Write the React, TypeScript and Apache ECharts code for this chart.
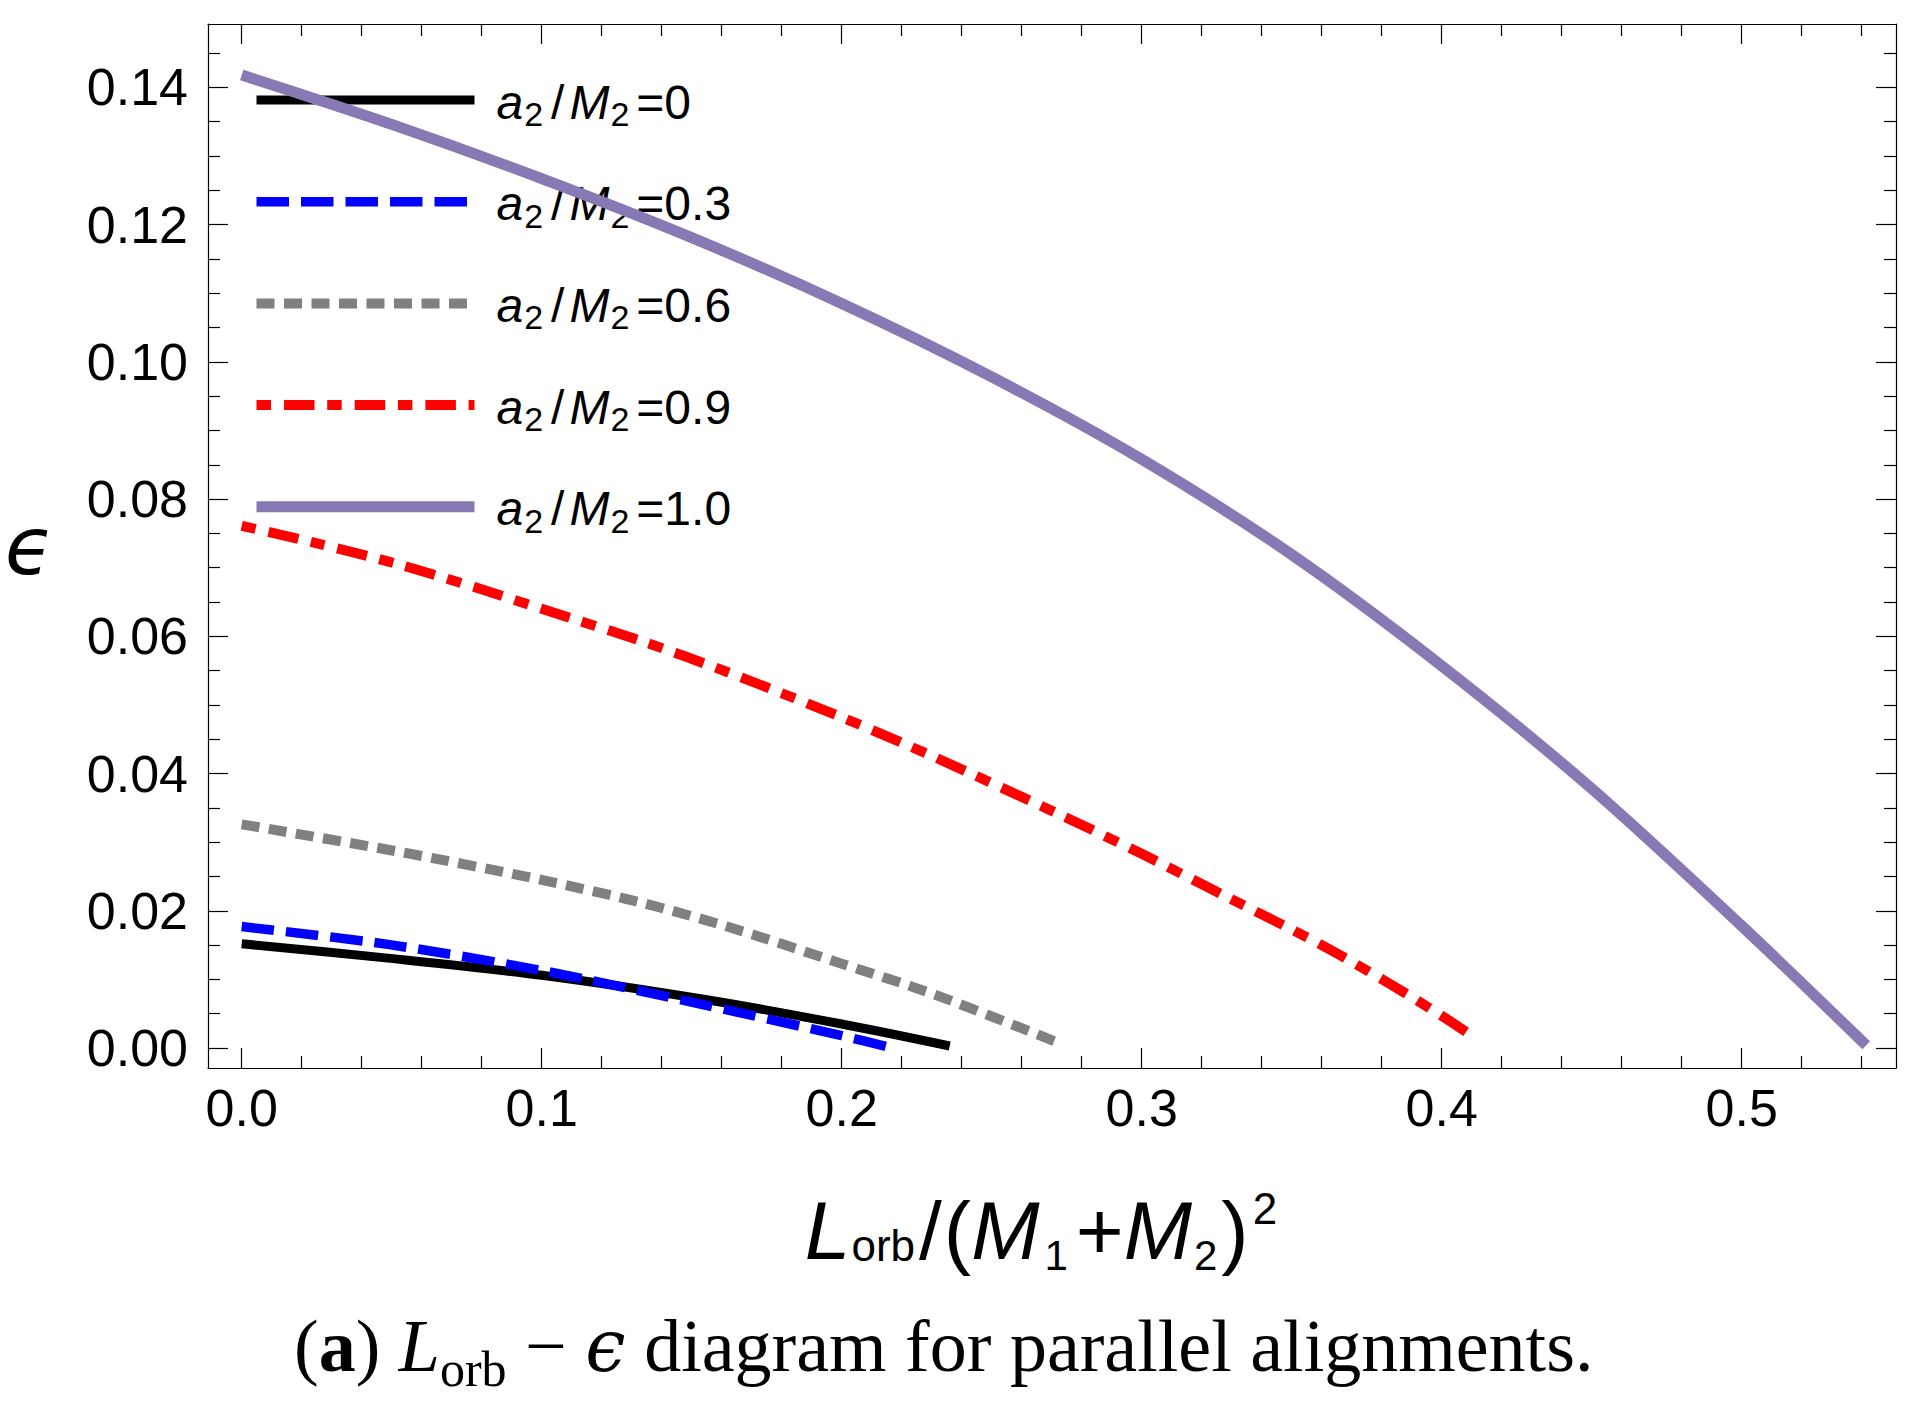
import React, { useEffect, useRef } from "react";
import * as echarts from "echarts";

// ---- axis ranges and ticks ----
const X_MIN = -0.01123;
const X_MAX = 0.55143;
const Y_MIN = -0.00291;
const Y_MAX = 0.14923;

const xMajorTicks = [0, 0.1, 0.2, 0.3, 0.4, 0.5];
const xMinorTicks = [0.02, 0.04, 0.06, 0.08, 0.12, 0.14, 0.16, 0.18, 0.22, 0.24, 0.26, 0.28, 0.32, 0.34, 0.36, 0.38, 0.42, 0.44, 0.46, 0.48, 0.52, 0.54];
const yMajorTicks = [0, 0.02, 0.04, 0.06, 0.08, 0.1, 0.12, 0.14];
const yMinorTicks = [0.005, 0.01, 0.015, 0.025, 0.03, 0.035, 0.045, 0.05, 0.055, 0.065, 0.07, 0.075, 0.085, 0.09, 0.095, 0.105, 0.11, 0.115, 0.125, 0.13, 0.135, 0.145];

// ---- series ----
const seriesNames = ["a2/M2=0", "a2/M2=0.3", "a2/M2=0.6", "a2/M2=0.9", "a2/M2=1.0"];
const spinLabels = ["0", "0.3", "0.6", "0.9", "1.0"];

const L0 = [0, 0.0487, 0.1, 0.154, 0.2, 0.236];
const E0 = [0.0152, 0.0131, 0.0106, 0.0071, 0.0035, 0.0003];

const L3 = [0, 0.0487, 0.1, 0.154, 0.2, 0.217];
const E3 = [0.0177, 0.0151, 0.0113, 0.0063, 0.0018, 0.0];

const L6 = [0, 0.0513, 0.1, 0.134, 0.1618, 0.2, 0.2309, 0.272];
const E6 = [0.0326, 0.0287, 0.0245, 0.0211, 0.0177, 0.0123, 0.0078, 0.0008];

const L9 = [0, 0.0237, 0.0513, 0.0789, 0.1, 0.134, 0.1618, 0.2, 0.2309, 0.2723, 0.3, 0.3276, 0.36, 0.3829, 0.4, 0.411];
const E9 = [0.0761, 0.0737, 0.0706, 0.067, 0.064, 0.0592, 0.0548, 0.0482, 0.0424, 0.0341, 0.0283, 0.0222, 0.015, 0.0093, 0.0047, 0.0015];

const L10 = [0, 0.05, 0.1, 0.15, 0.2, 0.25, 0.3, 0.35, 0.4, 0.45, 0.5, 0.5415];
const E10 = [0.1418, 0.1346, 0.1267, 0.1181, 0.1085, 0.0978, 0.0858, 0.0719, 0.0557, 0.0378, 0.0178, 0.0004];

const seriesX = [L0, L3, L6, L9, L10];
const seriesY = [E0, E3, E6, E9, E10];
const seriesColors = ["#000000", "#0000ff", "#808080", "#ff0000", "#8878b4"];
const seriesWidths = [9, 9.5, 10, 10, 11];
const seriesDash: any[] = ["solid", [32.5, 12], [18, 9.5], [14.5, 13, 30.5, 12.7], "solid"];

const SANS = "'Liberation Sans', Arial, Helvetica, sans-serif";
const SERIF = "'Liberation Serif', 'Times New Roman', serif";

function buildOption() {
  const lineStyleAxis = { color: "#000", width: 1.2 };

  const makeX = (position: string, ticks: number[], len: number, major: boolean, labels: boolean) => ({
    type: "value",
    gridIndex: 0,
    position,
    min: X_MIN,
    max: X_MAX,
    axisLine: { show: major, onZero: false, lineStyle: lineStyleAxis },
    axisTick: { show: true, inside: true, length: len, customValues: ticks, lineStyle: { color: "#000", width: 1.2 } },
    axisLabel: labels
      ? {
          show: true,
          customValues: ticks,
          formatter: (v: number) => v.toFixed(1),
          fontFamily: SANS,
          fontSize: 52,
          lineHeight: 52,
          color: "#000",
          margin: 14,
        }
      : { show: false },
    splitLine: { show: false },
    minorTick: { show: false },
  });

  const makeY = (position: string, ticks: number[], len: number, major: boolean, labels: boolean) => ({
    type: "value",
    gridIndex: 0,
    position,
    min: Y_MIN,
    max: Y_MAX,
    axisLine: { show: major, onZero: false, lineStyle: lineStyleAxis },
    axisTick: { show: true, inside: true, length: len, customValues: ticks, lineStyle: { color: "#000", width: 1.2 } },
    axisLabel: labels
      ? {
          show: true,
          customValues: ticks,
          formatter: (v: number) => v.toFixed(2),
          fontFamily: SANS,
          fontSize: 52,
          lineHeight: 52,
          color: "#000",
          margin: 20,
        }
      : { show: false },
    splitLine: { show: false },
    minorTick: { show: false },
  });

  const xMain: any = makeX("bottom", xMajorTicks, 20, true, true);
  xMain.name = "{L|L}{o|orb}{sl|/}{n|(}{M|M}{s1|1}{n|+}{M|M}{s2|2}{n|)}{sup|2}";
  xMain.nameLocation = "middle";
  xMain.nameGap = 112;
  const tk = (extra: any) => ({ fontFamily: SANS, color: "#000", lineHeight: 100, ...extra });
  xMain.nameTextStyle = {
    fontFamily: SANS,
    fontSize: 82,
    color: "#000",
    lineHeight: 100,
    rich: {
      L: tk({ fontSize: 82, fontStyle: "italic" }),
      o: tk({ fontSize: 44, padding: [30, 2, 0, 1] }),
      sl: tk({ fontSize: 82, padding: [0, 2, 0, 2] }),
      n: tk({ fontSize: 82 }),
      M: tk({ fontSize: 82, fontStyle: "italic" }),
      s1: tk({ fontSize: 42, padding: [51, 8, 0, 5] }),
      s2: tk({ fontSize: 42, padding: [51, 4, 0, 2] }),
      sup: tk({ fontSize: 44, padding: [0, 22, 44, 4] }),
    },
  };

  const yMain: any = makeY("left", yMajorTicks, 20, true, true);
  yMain.name = "ϵ";
  yMain.nameLocation = "middle";
  yMain.nameRotate = 0;
  yMain.nameGap = 154;
  yMain.nameTextStyle = {
    fontFamily: "'DejaVu Sans', sans-serif",
    fontStyle: "italic",
    fontSize: 80,
    lineHeight: 80,
    color: "#000",
    padding: [8, 0, 0, 0],
  };

  const lt = (extra: any) => ({ fontFamily: SANS, color: "#000", lineHeight: 60, ...extra });

  const st = (extra: any) => ({ fontFamily: SERIF, color: "#000", fontWeight: "normal", lineHeight: 90, ...extra });

  return {
    animation: false,
    backgroundColor: "#ffffff",
    title: {
      text: "{p|(}{b|a}{p|) }{i|L}{s|orb}{p| − }{e|ϵ}{p| diagram for parallel alignments.}",
      left: 294,
      top: 1301,
      padding: 0,
      textStyle: {
        fontFamily: SERIF,
        fontSize: 74,
        fontWeight: "normal",
        color: "#000",
        lineHeight: 90,
        rich: {
          p: st({ fontSize: 74 }),
          b: st({ fontSize: 74, fontWeight: "bold" }),
          i: st({ fontSize: 74, fontStyle: "italic" }),
          s: st({ fontSize: 50, padding: [46, 0, 0, 0] }),
          e: st({ fontSize: 72, fontStyle: "italic", fontFamily: "'DejaVu Serif', serif" }),
        },
      },
    },
    grid: {
      left: 208,
      right: 36,
      top: 24,
      bottom: 349,
      containLabel: false,
      outerBoundsMode: "none",
    },
    legend: {
      show: true,
      orient: "vertical",
      left: 251,
      top: 69,
      padding: 0,
      itemWidth: 218,
      itemHeight: 14,
      itemGap: 39.7,
      z: 1,
      selectedMode: false,
      data: seriesNames,
      itemStyle: { opacity: 0, borderWidth: 0 },
      lineStyle: { width: "inherit" },
      formatter: (name: string) => {
        const i = seriesNames.indexOf(name);
        return `{a|a}{s|2}{sl|/}{m|M}{s|2}{v|=${spinLabels[i]}}`;
      },
      textStyle: {
        fontFamily: SANS,
        fontSize: 48,
        color: "#000",
        lineHeight: 60,
        rich: {
          a: lt({ fontSize: 48, fontStyle: "italic", padding: [4, 0, 0, 17] }),
          s: lt({ fontSize: 34, padding: [28, 3, 0, 1] }),
          sl: lt({ fontSize: 48, padding: [4, 5, 0, 5] }),
          m: lt({ fontSize: 48, fontStyle: "italic", padding: [4, 0, 0, 0] }),
          v: lt({ fontSize: 48, padding: [4, 0, 0, 4] }),
        },
      },
    },
    xAxis: [
      xMain,
      makeX("bottom", xMinorTicks, 12, false, false),
      makeX("top", xMajorTicks, 20, true, false),
      makeX("top", xMinorTicks, 12, false, false),
    ],
    yAxis: [
      yMain,
      makeY("left", yMinorTicks, 12, false, false),
      makeY("right", yMajorTicks, 20, true, false),
      makeY("right", yMinorTicks, 12, false, false),
    ],
    series: seriesNames.map((name, i) => ({
      type: "line",
      name,
      xAxisIndex: 0,
      yAxisIndex: 0,
      data: seriesX[i].map((x, j) => [x, seriesY[i][j]]),
      symbol: "none",
      showSymbol: false,
      smooth: 0.3,
      silent: true,
      z: 2,
      itemStyle: { color: seriesColors[i] },
      lineStyle: { color: seriesColors[i], width: seriesWidths[i], type: seriesDash[i], cap: "butt", join: "round" },
      emphasis: { disabled: true },
    })),
  };
}

export default function App() {
  const ref = useRef<HTMLDivElement>(null);
  useEffect(() => {
    if (!ref.current) return;
    const chart = echarts.init(ref.current, null, { renderer: "svg" });
    chart.setOption(buildOption() as any);
    return () => chart.dispose();
  }, []);
  return (
    <div
      ref={ref}
      style={{ position: "fixed", left: 0, top: 0, width: "1932px", height: "1417px", background: "#fff" }}
    />
  );
}
